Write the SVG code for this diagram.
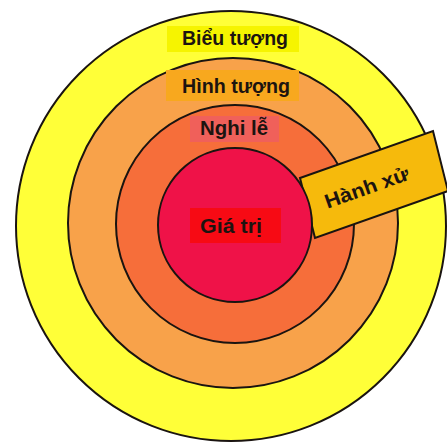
<svg xmlns="http://www.w3.org/2000/svg" width="447" height="443" viewBox="0 0 447 443">
<style>
.ring{stroke:#1a1410;stroke-width:2}
.lbl{font-family:"Liberation Sans",Arial,sans-serif;font-weight:bold;font-size:20px;fill:#1c1410;text-anchor:middle}
</style>
<rect width="447" height="443" fill="#ffffff"/>
<g id="bieu-tuong">
<circle class="ring" cx="231" cy="226" r="215" fill="#ffff38"/>
<rect x="167" y="26" width="132" height="26" fill="#f6f400"/>
<text class="lbl" x="235" y="45" textLength="106" lengthAdjust="spacingAndGlyphs">Biểu tượng</text>
</g>
<g id="hinh-tuong">
<circle class="ring" cx="233" cy="223" r="165" fill="#f8a24a"/>
<rect x="166" y="70" width="133" height="31" fill="#f8a81e"/>
<text class="lbl" x="236" y="93" textLength="108" lengthAdjust="spacingAndGlyphs">Hình tượng</text>
</g>
<g id="nghi-le">
<circle class="ring" cx="235" cy="224" r="119" fill="#f66e3a"/>
<rect x="190" y="116" width="89" height="26" fill="#f0605a"/>
<text class="lbl" x="234" y="135" textLength="68" lengthAdjust="spacingAndGlyphs">Nghi lễ</text>
</g>
<g id="hanh-xu">
<polygon points="300,178 433,131 448,191 315,238" fill="#f6ba0c" stroke="#1a1410" stroke-width="2"/>
<text class="lbl" x="369" y="194" transform="rotate(-19.5 369 194)" textLength="88" lengthAdjust="spacingAndGlyphs">Hành xử</text>
</g>
<g id="gia-tri">
<circle class="ring" cx="235" cy="225" r="77" fill="#ef1248"/>
<rect x="190" y="208" width="91" height="35" fill="#f70a14"/>
<text class="lbl" x="231" y="233" textLength="62" lengthAdjust="spacingAndGlyphs">Giá trị</text>
</g>
<g id="connectors"></g>
</svg>
